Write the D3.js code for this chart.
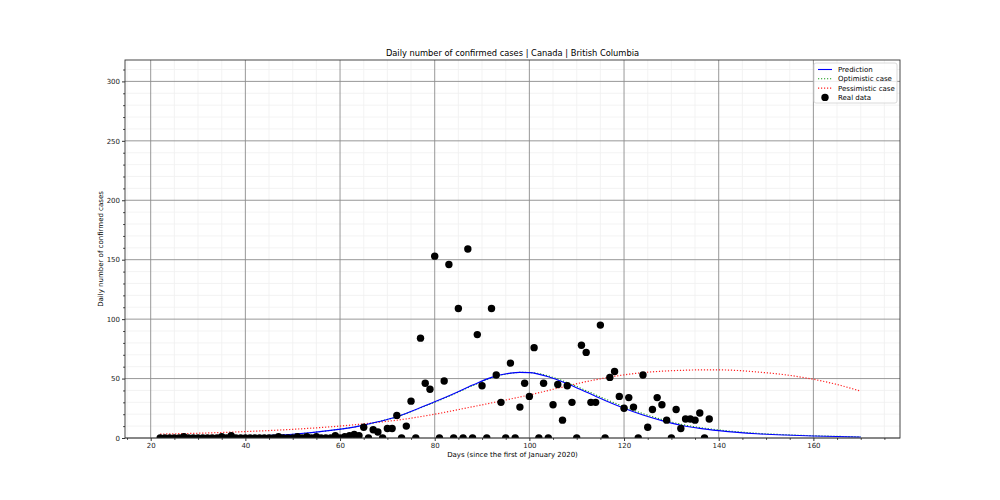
<!DOCTYPE html>
<html>
<head>
<meta charset="utf-8">
<script src="https://cdn.jsdelivr.net/npm/d3@7"></script>
<style>
  body { margin: 0; background: #fff; }
  text { font-family: 'DejaVu Sans', sans-serif; fill: #000; }
</style>
</head>
<body>
<div id="chart"></div>
<script>
// real data: day index (since 1 Jan 2020) and daily cases
const realDays = d3.range(22, 139);
const realCases = [
  0, 0, 0, 0, 0, 1, 0, 0, 0, 0, 0, 0, 0, 1, 0, 2, 0, 0, 0, 0,   // 22-41
  0, 0, 0, 0, 0, 1, 0, 0, 0, 1, 0, 1, 0, 1, 0, 0, 0, 2, 0, 1,   // 42-61
  2, 3, 2, 9, 0, 7, 5, 0, 8, 8, 19, 0, 10, 31, 0, 84, 46, 41, 153, 0, // 62-81
  48, 146, 0, 109, 0, 159, 0, 87, 44, 0, 109, 53, 30, 0, 63, 0, 26, 46, 35, 76, // 82-101
  0, 46, 0, 28, 45, 15, 44, 30, 0, 78, 72, 30, 30, 95, 0, 51, 56, 35, 25, 34, // 102-121
  26, 0, 53, 9, 24, 34, 28, 15, 0, 24, 8, 16, 16, 15, 21, 0, 16   // 122-138
];

// model curves
const curveDays = [22, 30, 40, 50, 58, 64, 68, 72, 76, 80, 84, 88, 92, 96, 98, 100, 104, 108, 112, 116, 120, 124, 128, 132, 136, 140, 144, 148, 154, 160, 165, 170];
const prediction = [0.5, 0.9, 1.6, 3.1, 6.4, 10, 13.6, 17.8, 24, 30.4, 37.2, 44.5, 51, 54.6, 55.2, 55, 51.6, 45.6, 38.6, 31.5, 25, 19.3, 14.6, 10.7, 8.1, 6.2, 4.7, 3.6, 2.5, 1.7, 1.2, 0.8];
const optimistic = [0.5, 0.9, 1.6, 3.1, 6.4, 10, 13.6, 17.8, 23.8, 30.1, 36.8, 44, 50.6, 54.4, 55.2, 55.1, 52.2, 46.6, 39.8, 32.8, 26.3, 20.5, 15.6, 11.6, 8.8, 6.8, 5.2, 4, 2.8, 1.9, 1.4, 1];
const pessimistic = [3.3, 4, 5.4, 7.3, 9.4, 11.5, 13.2, 15, 17.3, 20, 23.1, 26.3, 29.5, 32.8, 34.5, 36.2, 40, 43.8, 47.4, 50.5, 53.1, 55, 56.2, 56.9, 57.3, 57.3, 56.8, 55.6, 53.2, 49.4, 45, 39.4];

const xTicks = [20, 40, 60, 80, 100, 120, 140, 160];
const yTicks = [0, 50, 100, 150, 200, 250, 300];

const W = 1000;
const H = 500;
const margin = { t: 60, r: 100, b: 62, l: 125 };
const iw = W - margin.l - margin.r;
const ih = H - margin.t - margin.b;

const scaleX = d3.scaleLinear().domain([14.57, 178.3]).range([0, iw]);
const scaleY = d3.scaleLinear().domain([0, 318]).range([ih, 0]);

const svg = d3.select('#chart').append('svg')
  .attr('width', W)
  .attr('height', H);

const g = svg.append('g')
  .attr('transform', `translate(${margin.l}, ${margin.t})`);

g.append('clipPath').attr('id', 'clip')
  .append('rect').attr('width', iw).attr('height', ih);

// minor grid
const xMinor = d3.range(15, 178, 5).filter(v => v % 20 !== 0);
const yMinor = d3.range(0, 318, 10).filter(v => v % 50 !== 0);

g.append('g').selectAll('line').data(xMinor).join('line')
  .attr('x1', d => scaleX(d)).attr('x2', d => scaleX(d))
  .attr('y1', 0).attr('y2', ih)
  .style('stroke', '#f0f0f0').style('stroke-width', 0.8);

g.append('g').selectAll('line').data(yMinor).join('line')
  .attr('y1', d => scaleY(d)).attr('y2', d => scaleY(d))
  .attr('x1', 0).attr('x2', iw)
  .style('stroke', '#f0f0f0').style('stroke-width', 0.8);

// major grid
g.append('g').selectAll('line').data(xTicks).join('line')
  .attr('x1', d => scaleX(d)).attr('x2', d => scaleX(d))
  .attr('y1', 0).attr('y2', ih)
  .style('stroke', '#8c8c8c').style('stroke-width', 0.9);

g.append('g').selectAll('line').data(yTicks).join('line')
  .attr('y1', d => scaleY(d)).attr('y2', d => scaleY(d))
  .attr('x1', 0).attr('x2', iw)
  .style('stroke', '#8c8c8c').style('stroke-width', 0.9);

// axes
const xAxis = d3.axisBottom(scaleX).tickValues(xTicks).tickSize(3).tickPadding(2);
const yAxis = d3.axisLeft(scaleY).tickValues(yTicks).tickSize(3).tickPadding(2);

g.append('g').attr('transform', `translate(0, ${ih})`).call(xAxis);
g.append('g').call(yAxis);

// minor ticks
g.append('g').attr('transform', `translate(0, ${ih})`)
  .call(d3.axisBottom(scaleX).tickValues(xMinor).tickSize(1.8).tickFormat(''));
g.append('g')
  .call(d3.axisLeft(scaleY).tickValues(yMinor).tickSize(1.8).tickFormat(''));

g.selectAll('.domain').remove();
g.selectAll('.tick line').style('stroke', '#333');
g.selectAll('.tick text').style('font-size', '7px').style('fill', '#222');

// lines
const line = d3.line()
  .x((d, i) => scaleX(curveDays[i]))
  .y(d => scaleY(d))
  .curve(d3.curveMonotoneX);

const plot = g.append('g').attr('clip-path', 'url(#clip)');

plot.append('path').datum(pessimistic)
  .attr('d', line)
  .style('fill', 'none').style('stroke', '#ff2020').style('stroke-width', 1.2)
  .style('stroke-dasharray', '1.2,1.8');

plot.append('path').datum(optimistic)
  .attr('d', line)
  .style('fill', 'none').style('stroke', '#1a9a1a').style('stroke-width', 1.1)
  .style('stroke-dasharray', '1.2,1.8');

plot.append('path').datum(prediction)
  .attr('d', line)
  .style('fill', 'none').style('stroke', '#0000ff').style('stroke-width', 1.1);

plot.append('g').selectAll('circle').data(realCases).join('circle')
  .attr('cx', (d, i) => scaleX(realDays[i]))
  .attr('cy', d => scaleY(d))
  .attr('r', 3.7)
  .style('fill', '#000');

// frame
g.append('rect')
  .attr('width', iw).attr('height', ih)
  .style('fill', 'none').style('stroke', '#333').style('stroke-width', 0.9);

// texts
svg.append('text')
  .attr('x', margin.l + iw / 2).attr('y', 56)
  .attr('text-anchor', 'middle')
  .style('font-size', '8.3px')
  .text('Daily number of confirmed cases | Canada | British Columbia');

svg.append('text')
  .attr('x', margin.l + iw / 2).attr('y', 457)
  .attr('text-anchor', 'middle')
  .style('font-size', '7px')
  .text('Days (since the first of January 2020)');

svg.append('text')
  .attr('transform', `translate(103, ${margin.t + ih / 2}) rotate(-90)`)
  .attr('text-anchor', 'middle')
  .style('font-size', '7px')
  .text('Daily number of confirmed cases');

// legend
const legendItems = [
  { label: 'Prediction', type: 'line', color: '#0000ff', dash: null },
  { label: 'Optimistic case', type: 'line', color: '#1a9a1a', dash: '1.2,1.8' },
  { label: 'Pessimistic case', type: 'line', color: '#ff2020', dash: '1.2,1.8' },
  { label: 'Real data', type: 'dot', color: '#000' }
];

const legend = svg.append('g').attr('transform', 'translate(814, 63)');
legend.append('rect')
  .attr('width', 83).attr('height', 40).attr('rx', 2)
  .style('fill', 'rgba(255,255,255,0.8)').style('stroke', '#d0d0d0').style('stroke-width', 0.8);

const li = legend.selectAll('g').data(legendItems).join('g')
  .attr('transform', (d, i) => `translate(4, ${6.5 + i * 9.3})`);

li.filter(d => d.type === 'line').append('line')
  .attr('x1', 0).attr('x2', 14)
  .style('stroke', d => d.color)
  .style('stroke-width', 1.1)
  .style('stroke-dasharray', d => d.dash);

li.filter(d => d.type === 'dot').append('circle')
  .attr('cx', 7).attr('r', 3.7).style('fill', '#000');

li.append('text')
  .attr('x', 20).attr('dy', '0.35em')
  .style('font-size', '7px')
  .text(d => d.label);
</script>
</body>
</html>
